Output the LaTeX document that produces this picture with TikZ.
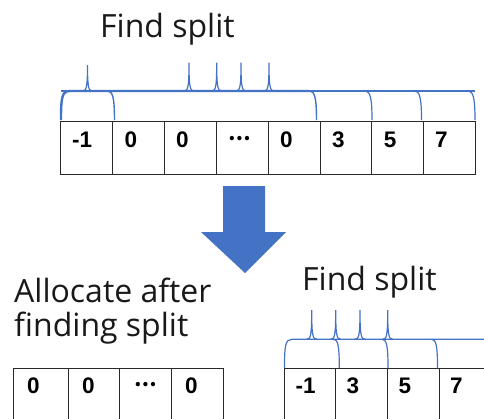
\documentclass[tikz,border=0pt]{standalone}
\usepackage{fontspec}
\setmainfont{Open Sans}
\newfontfamily\numfont{Liberation Sans}
\newfontfamily\cjkfont{Noto Sans CJK JP}
\definecolor{braceblue}{RGB}{68,114,196}
\definecolor{cellline}{RGB}{40,40,40}
\tikzset{
  title/.style={anchor=base west, inner sep=0pt, font=\fontsize{32}{32}\selectfont, text=black!90},
  cellbox/.style={draw=cellline, line width=0.9pt},
  celltext/.style={anchor=west, inner sep=0pt, font=\numfont\bfseries\fontsize{22.5}{22.5}\selectfont},
  bracethick/.style={draw=braceblue, line width=2.4pt},
  bracethin/.style={draw=braceblue, line width=1.2pt},
}
\begin{document}
\begin{tikzpicture}[x=1pt,y=-1pt]
\useasboundingbox (0,0) rectangle (484,418);
\clip (0,0) rectangle (484,418);
\fill[white] (0,0) rectangle (484,418);

% titles
\node[title] (t1) at (100,37.5) {Find split};
\node[title] (t2) at (14,302.5) {Allocate after};
\node[title] (t3) at (14,336.5) {finding split};
\node[title] (t4) at (302,290) {Find split};

% top array
\foreach \a/\b [count=\i] in {60/112.5,112.5/164,164/216,216/268,268/320,320/371.7,371.7/423,423/475}{
  \draw[cellbox] (\a,121) rectangle (\b,174);
}
\foreach \x/\t [count=\i] in {60/{-1},112.5/0,164/0,268/0,320/3,371.7/5,423/7}{
  \node[celltext] (top\i) at (\x+12,140) {\t};
}
\node[celltext, font=\cjkfont\bfseries\fontsize{20}{20}\selectfont] (topdots) at (228,138.5) {…};

% top braces
\draw[bracethin] (61,91) -- (475,91);
\draw[bracethick] (61,120) .. controls (61,97) and (62,91) .. (70,91) -- (309,91);
\foreach \b in {114.5,316.5}{
  \draw[bracethick,line width=1.4pt] (\b-7,91) .. controls (\b-2,91) and (\b,97) .. (\b,120);
}
\foreach \b in {372,421.5,475}{
  \draw[bracethin] (\b-7,91) .. controls (\b-2,91) and (\b,97) .. (\b,120);
}
\foreach \t/\h in {87.5/65,189/62.5,216.7/62.5,241/62.5,269/62.5}{
  \draw[bracethin] (\t-5,91) .. controls (\t-1,91) and (\t,87) .. (\t,\h)
                   .. controls (\t,87) and (\t+1,91) .. (\t+5,91);
}

% block arrow
\fill[braceblue] (223,186) -- (265,186) -- (265,232) -- (286,232) -- (245,273)
  -- (201,232) -- (223,232) -- cycle;

% bottom-left array
\foreach \a/\b in {13/68,68/119,119/171,171/223}{
  \draw[cellbox] (\a,368) rectangle (\b,440);
}
\foreach \x/\t [count=\i] in {13/0,68/0,171/0}{
  \node[celltext] (bl\i) at (\x+14,386) {\t};
}
\node[celltext, font=\cjkfont\bfseries\fontsize{20}{20}\selectfont] (bldots) at (134,384.5) {…};

% bottom-right array
\foreach \a/\b in {284.5/335.5,335.5/387.5,387.5/439,439/491}{
  \draw[cellbox] (\a,368) rectangle (\b,440);
}
\foreach \x/\t [count=\i] in {284.5/{-1},335.5/3,387.5/5,439/7}{
  \node[celltext] (br\i) at (\x+11,386) {\t};
}

% bottom-right braces
\draw[bracethin] (284.5,368) .. controls (284.5,345) and (285.5,339.3) .. (292,339.3) -- (490,339.3);
\foreach \b in {339.3,388,437.5}{
  \draw[bracethin] (\b-6,339.3) .. controls (\b-1.5,339.3) and (\b,345) .. (\b,368);
}
\foreach \t in {311.7,335.7,360,387.7}{
  \draw[bracethin] (\t-5,339.3) .. controls (\t-1,339.3) and (\t,335) .. (\t,310)
                   .. controls (\t,335) and (\t+1,339.3) .. (\t+5,339.3);
}
\end{tikzpicture}
\end{document}
